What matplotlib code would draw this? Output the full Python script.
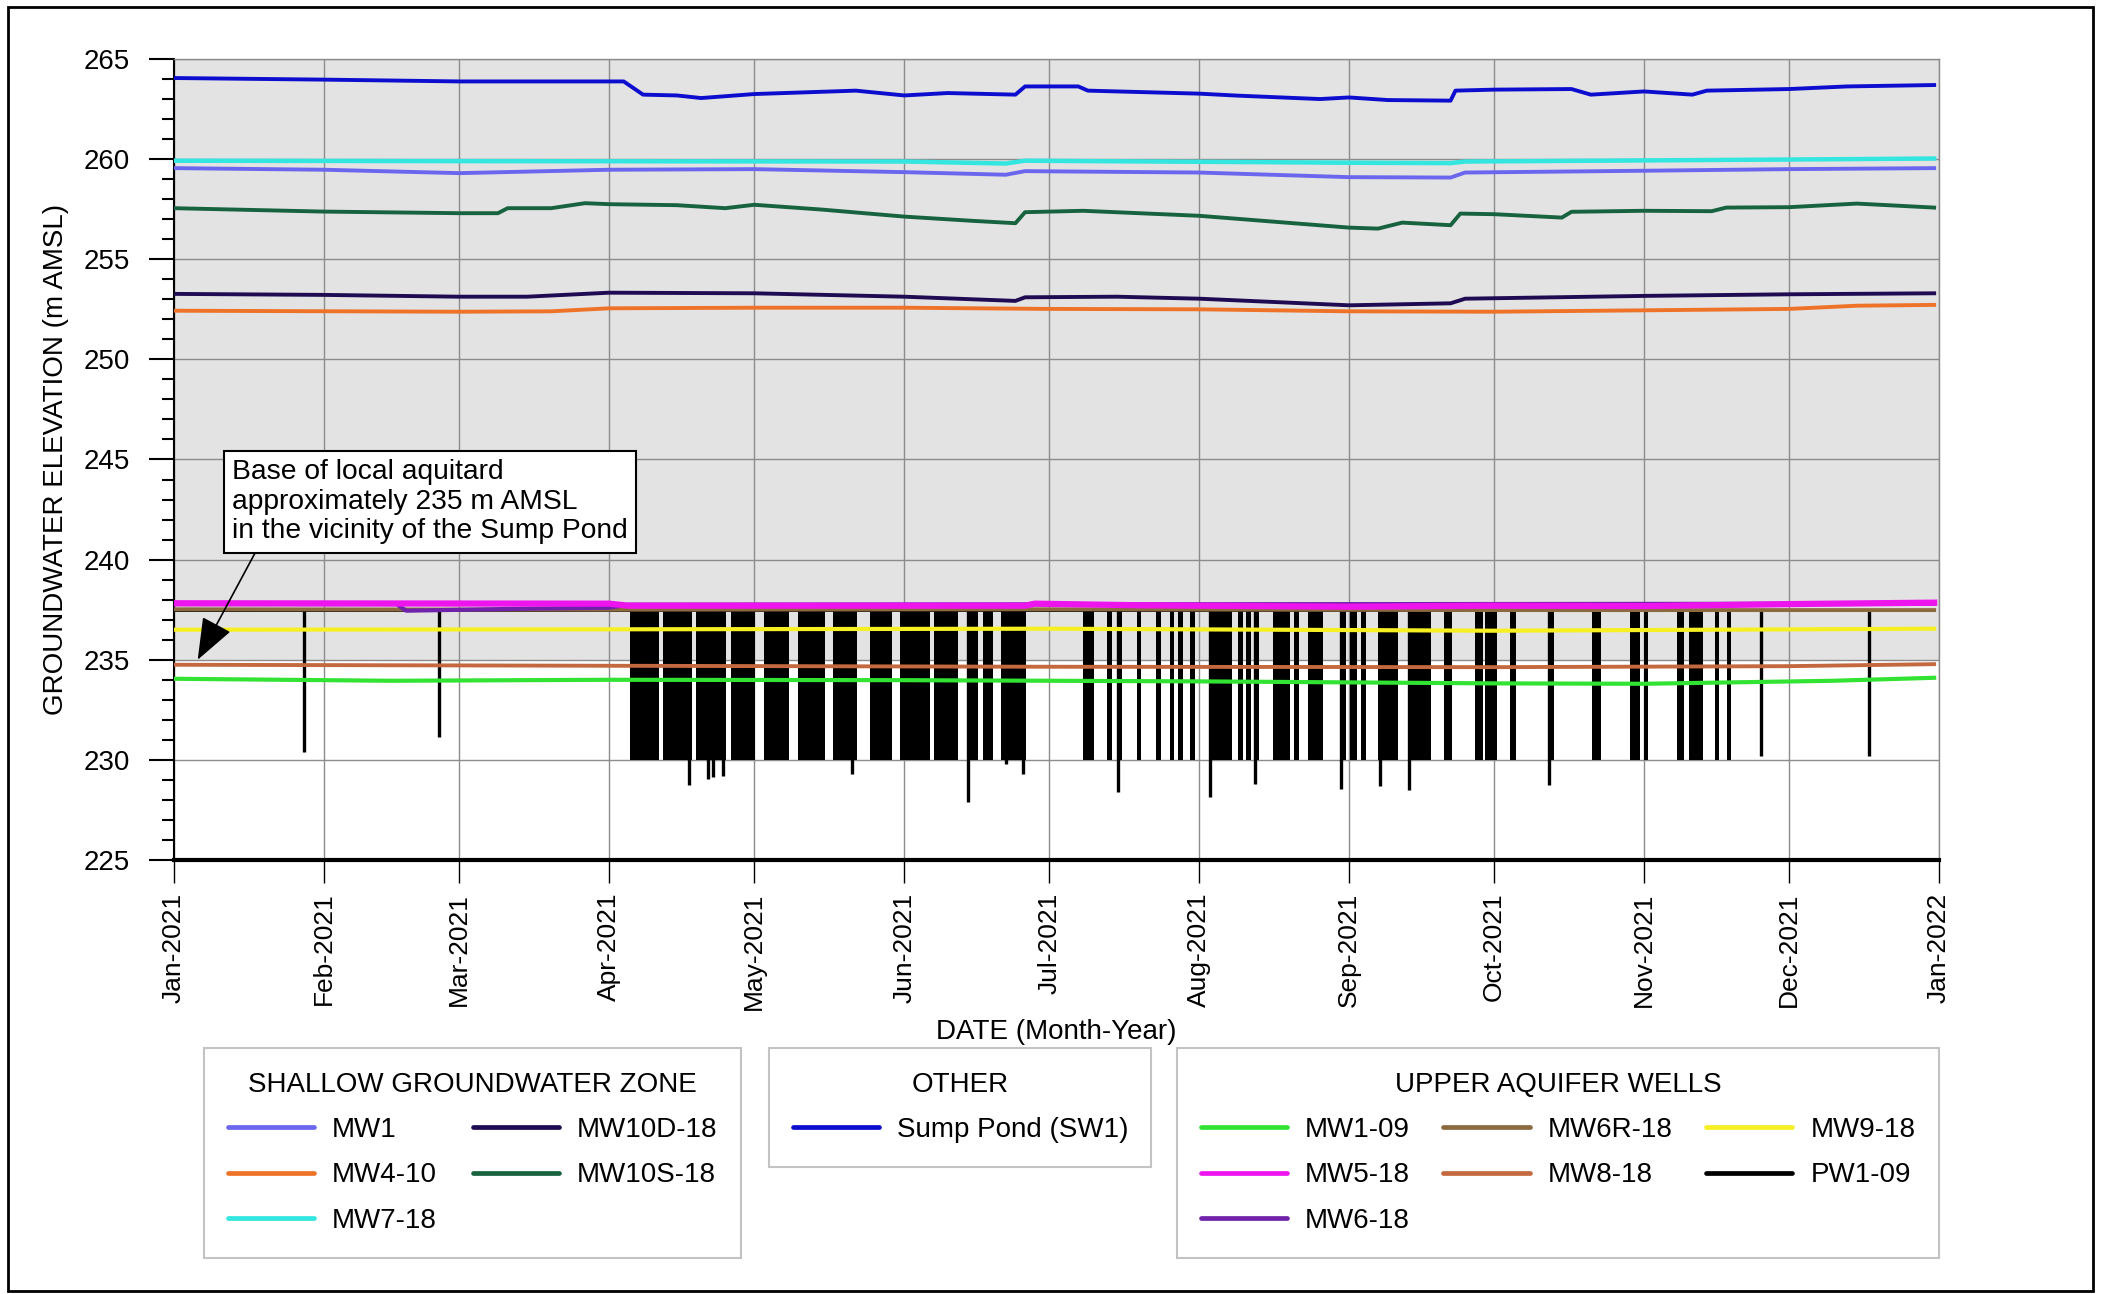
import datetime as dt

import matplotlib
matplotlib.use('Agg')
import matplotlib.pyplot as plt
import matplotlib.dates as mdates
from matplotlib import ticker
from matplotlib.lines import Line2D
from matplotlib.patches import Rectangle

plt.rcParams['font.family'] = ['Liberation Sans', 'DejaVu Sans']

W, H, DPI = 2104, 1294, 100
START = dt.datetime(2021, 1, 1)
END = dt.datetime(2022, 1, 1)

# ---- shallow groundwater zone (date 'MM-DD' in 2021, elevation m AMSL) ----
mw1_dates = ['01-01', '02-01', '03-01', '04-01', '05-01', '06-01', '06-22', '06-26',
             '08-01', '09-01', '09-22', '09-25', '11-01', '12-01', '12-31']
mw1_vals = [259.55, 259.47, 259.30, 259.47, 259.50, 259.35, 259.22, 259.40,
            259.33, 259.10, 259.08, 259.33, 259.42, 259.50, 259.55]

mw4_dates = ['01-01', '03-01', '03-20', '04-01', '05-01', '06-01', '07-01', '08-01',
             '09-01', '10-01', '11-01', '12-01', '12-15', '12-31']
mw4_vals = [252.43, 252.38, 252.40, 252.55, 252.58, 252.58, 252.52, 252.50,
            252.40, 252.38, 252.45, 252.52, 252.68, 252.72]

mw7_dates = ['01-01', '03-01', '06-01', '06-22', '06-26', '09-01', '09-22', '09-25', '12-01', '12-31']
mw7_vals = [259.92, 259.90, 259.88, 259.78, 259.92, 259.82, 259.80, 259.88, 259.98, 260.03]

mw10d_dates = ['01-01', '02-01', '03-01', '03-15', '04-01', '05-01', '06-01', '06-24', '06-26',
               '07-15', '08-01', '09-01', '09-22', '09-25', '11-01', '12-01', '12-31']
mw10d_vals = [253.27, 253.22, 253.13, 253.13, 253.33, 253.30, 253.13, 252.92, 253.10,
              253.13, 253.03, 252.70, 252.80, 253.03, 253.17, 253.25, 253.30]

mw10s_dates = ['01-01', '02-01', '03-01', '03-09', '03-11', '03-20', '03-27', '04-01', '04-15',
               '04-25', '05-01', '05-15', '06-01', '06-15', '06-24', '06-26', '07-08', '08-01',
               '09-01', '09-07', '09-12', '09-22', '09-24', '10-01', '10-15', '10-17', '11-01',
               '11-15', '11-18', '12-01', '12-15', '12-31']
mw10s_vals = [257.55, 257.38, 257.30, 257.30, 257.55, 257.55, 257.80, 257.75, 257.70,
              257.55, 257.72, 257.48, 257.13, 256.92, 256.80, 257.35, 257.42, 257.17,
              256.58, 256.53, 256.83, 256.70, 257.28, 257.25, 257.08, 257.37, 257.42,
              257.40, 257.58, 257.60, 257.78, 257.58]

# ---- other ----
sw1_dates = ['01-01', '02-01', '03-01', '04-04', '04-08', '04-15', '04-20', '05-01', '05-22',
             '06-01', '06-10', '06-24', '06-26', '07-07', '07-09', '08-01', '08-09', '08-26',
             '09-01', '09-09', '09-22', '09-23', '10-01', '10-17', '10-21', '11-01', '11-11',
             '11-14', '12-01', '12-13', '12-31']
sw1_vals = [264.05, 263.97, 263.88, 263.88, 263.22, 263.18, 263.05, 263.25, 263.42,
            263.18, 263.30, 263.22, 263.63, 263.63, 263.42, 263.27, 263.17, 263.00,
            263.08, 262.95, 262.92, 263.42, 263.47, 263.50, 263.22, 263.38, 263.22,
            263.42, 263.50, 263.63, 263.70]

# ---- upper aquifer wells ----
mw109_dates = ['01-01', '02-15', '04-01', '06-01', '08-01', '10-01', '11-01', '12-10', '12-31']
mw109_vals = [234.05, 233.95, 234.00, 233.98, 233.92, 233.82, 233.80, 233.95, 234.10]

mw5_dates = ['01-01', '04-01', '04-05', '06-26', '06-28', '07-20', '09-01', '10-01', '11-01', '12-01', '12-31']
mw5_vals = [237.82, 237.80, 237.70, 237.70, 237.80, 237.72, 237.65, 237.70, 237.68, 237.78, 237.85]

mw6_dates = ['01-01', '02-16', '02-18', '03-15', '04-01', '04-05', '12-31']
mw6_vals = [237.78, 237.78, 237.45, 237.55, 237.60, 237.75, 237.80]

mw6r_dates = ['01-01', '04-01', '07-01', '10-01', '12-31']
mw6r_vals = [237.52, 237.50, 237.52, 237.48, 237.48]

mw8_dates = ['01-01', '04-01', '07-01', '10-01', '12-01', '12-31']
mw8_vals = [234.75, 234.70, 234.65, 234.63, 234.68, 234.78]

mw9_dates = ['01-01', '04-01', '07-01', '10-01', '12-31']
mw9_vals = [236.50, 236.52, 236.55, 236.45, 236.55]

pw1_dates = ['01-01', '12-31']
pw1_vals = [237.50, 237.50]
# pumping periods of PW1-09 (day of year start, end) drawn down to ~230 m
pw1_pump_start = [94.2, 101.2, 108.0, 115.1, 122.0, 129.1, 136.2, 143.9, 150.1, 157.2,
                  163.9, 167.4, 171.1, 188.0, 193.0, 195.0, 199.1, 203.1, 205.9, 207.6,
                  210.1, 214.0, 220.0, 221.7, 223.4, 227.2, 231.6, 234.5, 241.1, 243.2,
                  245.4, 249.0, 255.1, 262.6, 269.1, 271.2, 276.3, 284.2, 293.2, 301.1,
                  304.0, 310.8, 313.4, 318.7, 321.2]
pw1_pump_end = [100.3, 107.2, 114.1, 120.2, 127.1, 134.6, 141.3, 148.5, 156.3, 162.2,
                166.3, 169.3, 176.1, 190.2, 194.0, 196.0, 200.0, 204.1, 206.8, 208.6,
                211.1, 218.7, 221.0, 222.8, 224.4, 230.8, 232.7, 237.6, 242.3, 244.7,
                246.5, 253.1, 260.0, 264.3, 270.7, 273.6, 277.5, 285.3, 295.1, 303.2,
                304.9, 312.3, 316.1, 319.5, 322.0]
pw1_pump_level = 230.0
# single short drawdowns (day of year, lowest elevation)
pw1_spike_days = [26.8, 54.8, 106.6, 110.5, 111.4, 113.6, 140.3, 164.2, 172.0, 175.5,
                  195.3, 214.2, 223.6, 241.3, 249.5, 255.3, 284.4, 328.2, 350.6]
pw1_spike_mins = [230.4, 231.15, 228.75, 229.05, 229.15, 229.2, 229.3, 227.9, 229.8, 229.3,
                  228.4, 228.15, 228.8, 228.55, 228.7, 228.5, 228.75, 230.2, 230.2]

colours = {
    'MW1': '#6b66ee', 'MW4-10': '#ee7328', 'MW7-18': '#33e6e0',
    'MW10D-18': '#1f0b52', 'MW10S-18': '#17633f', 'Sump Pond (SW1)': '#0d0dd0',
    'MW1-09': '#33e333', 'MW5-18': '#ee14ee', 'MW6-18': '#7022aa',
    'MW6R-18': '#8c6a40', 'MW8-18': '#c4693f', 'MW9-18': '#f6f022', 'PW1-09': '#000000',
}


def to_dates(mmdd):
    return [dt.datetime.strptime('2021-' + s, '%Y-%m-%d') for s in mmdd]


def doy(x):
    return START + dt.timedelta(days=x)


fig = plt.figure(figsize=(W / DPI, H / DPI), dpi=DPI)
ax = fig.add_axes([174 / W, 1 - 860 / H, 1765 / W, 801 / H])

# shaded zone above the base of the aquitard
ax.axhspan(235, 265, color='#e3e3e3', lw=0, zorder=0)

# PW1-09 pumping record
ax.plot(to_dates(pw1_dates), pw1_vals, color=colours['PW1-09'], lw=2, zorder=2)
ax.bar([doy(s) for s in pw1_pump_start],
       [pw1_vals[0] - pw1_pump_level] * len(pw1_pump_start),
       width=[dt.timedelta(days=e - s) for s, e in zip(pw1_pump_start, pw1_pump_end)],
       bottom=pw1_pump_level, align='edge', color='black', lw=0, zorder=2)
ax.vlines([doy(d) for d in pw1_spike_days], pw1_spike_mins, pw1_vals[0],
          colors='black', lw=2.4, zorder=2)

series = [
    ('MW6R-18', mw6r_dates, mw6r_vals, 2.8),
    ('MW9-18', mw9_dates, mw9_vals, 3.0),
    ('MW8-18', mw8_dates, mw8_vals, 2.8),
    ('MW1-09', mw109_dates, mw109_vals, 3.0),
    ('MW6-18', mw6_dates, mw6_vals, 3.0),
    ('MW5-18', mw5_dates, mw5_vals, 4.5),
    ('MW4-10', mw4_dates, mw4_vals, 2.8),
    ('MW10D-18', mw10d_dates, mw10d_vals, 2.8),
    ('MW10S-18', mw10s_dates, mw10s_vals, 2.8),
    ('MW1', mw1_dates, mw1_vals, 2.8),
    ('MW7-18', mw7_dates, mw7_vals, 3.2),
    ('Sump Pond (SW1)', sw1_dates, sw1_vals, 2.8),
]
for name, d, v, lw in series:
    ax.plot(to_dates(d), v, color=colours[name], lw=lw, zorder=3)

# axes styling
ax.set_xlim(START, END)
ax.set_ylim(225, 265)
ax.set_facecolor('white')
ax.set_axisbelow(True)
ax.yaxis.set_major_locator(ticker.MultipleLocator(5))
ax.yaxis.set_minor_locator(ticker.MultipleLocator(1))
ax.xaxis.set_major_locator(mdates.MonthLocator())
ax.xaxis.set_major_formatter(mdates.DateFormatter('%b-%Y'))
ax.grid(True, which='major', color='#8c8c8c', lw=1.0)

ax.tick_params(axis='y', which='major', direction='out', length=18, width=1.5,
               labelsize=20, pad=14)
ax.tick_params(axis='y', which='minor', direction='out', length=9, width=1.5)
ax.tick_params(axis='x', which='major', direction='out', length=16.5, width=1,
               labelsize=19, pad=7, labelrotation=90)

ax.spines['left'].set_color('black')
ax.spines['left'].set_linewidth(1.5)
ax.spines['bottom'].set_color('black')
ax.spines['bottom'].set_linewidth(3)
for s in ('top', 'right'):
    ax.spines[s].set_color('#8c8c8c')
    ax.spines[s].set_linewidth(1.0)

ax.set_ylabel('GROUNDWATER ELEVATION (m AMSL)', fontsize=20, labelpad=10)
fig.text(1056 / W, 1 - 1032 / H, 'DATE (Month-Year)', ha='center', va='center', fontsize=20)

ax.annotate('Base of local aquitard\napproximately 235 m AMSL\nin the vicinity of the Sump Pond',
            xy=(doy(4.9), 235.0), xytext=(doy(12), 245.0),
            ha='left', va='top', fontsize=20.3, linespacing=1.17, zorder=5,
            bbox=dict(boxstyle='square,pad=0.3', fc='white', ec='black', lw=1.5),
            arrowprops=dict(arrowstyle='-|>,head_length=1.3,head_width=0.5', color='black',
                            lw=1.2, relpos=(0.07, 0), shrinkA=0, shrinkB=0))


def make_legend(title, names, ncol, x0, w):
    handles = [Line2D([], [], color=colours[n], lw=3.4, solid_capstyle='round') for n in names]
    bottom = 1 - 1257 / H
    top = 1 - 1048 / H
    leg = fig.legend(handles, names, title=title, ncol=ncol, loc='upper left',
                     bbox_to_anchor=(x0 / W, bottom, w / W, top - bottom),
                     mode='expand', fontsize=20, title_fontsize=20, frameon=True,
                     fancybox=False, edgecolor='#b4b4b4', borderpad=0.85,
                     borderaxespad=0, handlelength=3.1, handletextpad=0.65,
                     labelspacing=0.7)
    leg.get_frame().set_linewidth(1.5)
    return leg


make_legend('SHALLOW GROUNDWATER ZONE', ['MW1', 'MW4-10', 'MW7-18', 'MW10D-18', 'MW10S-18'],
            2, 204, 537)
make_legend('OTHER', ['Sump Pond (SW1)'], 1, 769, 382)
make_legend('UPPER AQUIFER WELLS', ['MW1-09', 'MW5-18', 'MW6-18', 'MW6R-18', 'MW8-18',
                                    'MW9-18', 'PW1-09'], 3, 1177, 762)

# outer frame
fig.add_artist(Rectangle((8 / W, 3 / H), 2085 / W, 1284 / H, transform=fig.transFigure,
                         fill=False, ec='black', lw=2))

fig.savefig('out.png', dpi=DPI)
